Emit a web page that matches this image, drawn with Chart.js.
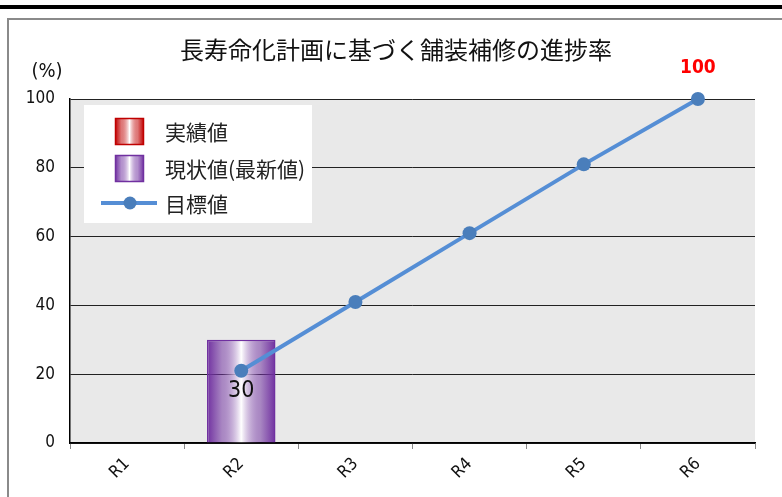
<!DOCTYPE html>
<html lang="ja">
<head>
<meta charset="utf-8">
<title>長寿命化計画に基づく舗装補修の進捗率</title>
<script src="https://cdn.jsdelivr.net/npm/chart.js@4.4.1/dist/chart.umd.min.js"></script>
<style>
    html, body {
        margin: 0;
        padding: 0;
        background: #ffffff;
        overflow: hidden;
    }
    .top-rule {
        position: absolute;
        left: 0;
        top: 5px;
        width: 100%;
        height: 4px;
        background: #000;
    }
    .frame {
        position: absolute;
        left: 7px;
        top: 18px;
        width: 900px;
        height: 600px;
        border-left: 2px solid #8a8a8a;
        border-top: 2px solid #8a8a8a;
    }
    #progressChart {
        position: absolute;
        left: 0;
        top: 0;
    }
</style>
</head>
<body>
<div class="top-rule"></div>
<div class="frame"></div>
<canvas id="progressChart" width="782" height="497"></canvas>

<script>
// 年度
const categories = ['R1', 'R2', 'R3', 'R4', 'R5', 'R6'];
// 実績値 (まだ無し)
const actualValues = [null, null, null, null, null, null];
// 現状値(最新値)
const currentValues = [null, 30, null, null, null, null];
// 目標値
const targetValues = [null, 21, 41, 61, 81, 100];
// 縦軸の目盛り
const yTicks = [0, 20, 40, 60, 80, 100];

const TITLE = '長寿命化計画に基づく舗装補修の進捗率';
const JP_FONT = '"Noto Sans CJK JP", "Noto Sans", sans-serif';
const NUM_FONT = '"Liberation Sans Narrow", "DejaVu Sans Condensed", "Liberation Sans", sans-serif';

const RED = '#c00000';
const PURPLE = '#7030a0';
const LINE_BLUE = '#558ed5';
const POINT_BLUE = '#4a7ebb';

// 横方向グラデーション (端が濃く中央が白)
function sideGradient(ctx, x0, x1, color) {
    const g = ctx.createLinearGradient(x0, 0, x1, 0);
    g.addColorStop(0, color);
    g.addColorStop(0.22, color + '88');
    g.addColorStop(0.5, '#ffffff');
    g.addColorStop(0.78, color + '88');
    g.addColorStop(1, color);
    return g;
}

// 棒ごとのグラデーションを x 軸から求める
function barFill(color) {
    return function(context) {
        const chart = context.chart;
        const xScale = chart.scales.x;
        if (!chart.chartArea || !xScale || context.dataIndex === undefined) {
            return color;
        }
        const cx = xScale.getPixelForValue(context.dataIndex);
        const half = (xScale.width / categories.length) * 0.6 / 2;
        return sideGradient(chart.ctx, cx - half, cx + half, color);
    };
}

const decorations = {
    id: 'decorations',
    beforeDraw(chart) {
        const { ctx, chartArea } = chart;
        ctx.save();
        ctx.fillStyle = '#e9e9e9';
        ctx.fillRect(chartArea.left, chartArea.top,
            chartArea.right - chartArea.left, chartArea.bottom - chartArea.top);
        ctx.restore();
    },
    afterDatasetsDraw(chart) {
        const { ctx } = chart;
        ctx.save();

        // 現状値ラベル (棒の中央)
        const barMeta = chart.getDatasetMeta(1);
        barMeta.data.forEach((bar, i) => {
            const v = currentValues[i];
            if (v === null) return;
            const p = bar.getProps(['x', 'y', 'base'], true);
            ctx.font = '23px ' + NUM_FONT;
            ctx.fillStyle = '#111';
            ctx.textAlign = 'center';
            ctx.textBaseline = 'middle';
            ctx.fillText(String(v), p.x, (p.y + p.base) / 2);
        });

        // 目標値の最終年度ラベル
        const lineMeta = chart.getDatasetMeta(2);
        const last = targetValues.length - 1;
        const pt = lineMeta.data[last];
        if (pt) {
            ctx.font = 'bold 19px ' + NUM_FONT;
            ctx.fillStyle = '#ff0000';
            ctx.textAlign = 'center';
            ctx.textBaseline = 'middle';
            ctx.fillText(String(targetValues[last]), pt.x, pt.y - 31);
        }
        ctx.restore();
    },
    afterDraw(chart) {
        const { ctx } = chart;
        ctx.save();

        // タイトル
        ctx.font = '24px ' + JP_FONT;
        ctx.fillStyle = '#111';
        ctx.textAlign = 'center';
        ctx.textBaseline = 'middle';
        ctx.fillText(TITLE, 396, 50);

        // 単位
        ctx.font = '20px ' + NUM_FONT;
        ctx.fillText('(%)', 47, 72);

        // 凡例
        ctx.fillStyle = '#ffffff';
        ctx.fillRect(84, 105, 228, 118);

        const ds = chart.data.datasets;
        const boxes = [
            { y: 118, color: RED, label: ds[0].label },
            { y: 155, color: PURPLE, label: ds[1].label }
        ];
        boxes.forEach(b => {
            ctx.fillStyle = sideGradient(ctx, 115, 144, b.color);
            ctx.fillRect(115, b.y, 29, 27);
            ctx.strokeStyle = b.color;
            ctx.lineWidth = 1.5;
            ctx.strokeRect(115.5, b.y + 0.5, 28, 26);
        });

        ctx.strokeStyle = LINE_BLUE;
        ctx.lineWidth = 4;
        ctx.beginPath();
        ctx.moveTo(101, 203);
        ctx.lineTo(157, 203);
        ctx.stroke();
        ctx.fillStyle = POINT_BLUE;
        ctx.beginPath();
        ctx.arc(130, 203, 6.5, 0, Math.PI * 2);
        ctx.fill();

        ctx.font = '21px ' + JP_FONT;
        ctx.fillStyle = '#222';
        ctx.textAlign = 'left';
        ctx.textBaseline = 'middle';
        ctx.fillText(ds[0].label, 165, 132);
        ctx.fillText(ds[1].label, 165, 169);
        ctx.fillText(ds[2].label, 165, 204);

        ctx.restore();
    }
};

new Chart(document.getElementById('progressChart'), {
    data: {
        labels: categories,
        datasets: [
            {
                type: 'bar',
                label: '実績値',
                data: actualValues,
                backgroundColor: barFill(RED),
                borderColor: RED,
                borderWidth: 1.5,
                barPercentage: 0.6,
                categoryPercentage: 1,
                grouped: false,
                order: 2
            },
            {
                type: 'bar',
                label: '現状値(最新値)',
                data: currentValues,
                backgroundColor: barFill(PURPLE),
                borderColor: PURPLE,
                borderWidth: 1.5,
                barPercentage: 0.6,
                categoryPercentage: 1,
                grouped: false,
                order: 1
            },
            {
                type: 'line',
                label: '目標値',
                data: targetValues,
                borderColor: LINE_BLUE,
                borderWidth: 4,
                pointRadius: 7,
                pointBackgroundColor: POINT_BLUE,
                pointBorderColor: POINT_BLUE,
                pointBorderWidth: 0,
                tension: 0,
                clip: false,
                order: 0
            }
        ]
    },
    options: {
        responsive: false,
        devicePixelRatio: 1,
        animation: false,
        layout: {
            padding: { left: 0, right: 27, top: 99, bottom: 0 }
        },
        plugins: {
            legend: { display: false },
            title: { display: false },
            tooltip: { enabled: false }
        },
        scales: {
            x: {
                type: 'category',
                offset: true,
                grid: {
                    offset: true,
                    drawOnChartArea: false,
                    drawTicks: true,
                    tickLength: 6,
                    color: '#888'
                },
                border: { color: '#000', width: 1.5 },
                ticks: {
                    minRotation: 45,
                    maxRotation: 45,
                    padding: 5,
                    color: '#111',
                    font: { family: NUM_FONT, size: 17 }
                },
                afterFit(scale) {
                    scale.height = 54;
                }
            },
            y: {
                min: yTicks[0],
                max: yTicks[yTicks.length - 1],
                afterBuildTicks(scale) {
                    scale.ticks = yTicks.map(v => ({ value: v }));
                },
                grid: {
                    color: '#222',
                    lineWidth: 1,
                    drawTicks: false
                },
                border: { color: '#000', width: 1.5 },
                ticks: {
                    padding: 15,
                    color: '#111',
                    font: { family: NUM_FONT, size: 17 }
                },
                afterFit(scale) {
                    scale.width = 70;
                }
            }
        }
    },
    plugins: [decorations]
});
</script>
</body>
</html>
